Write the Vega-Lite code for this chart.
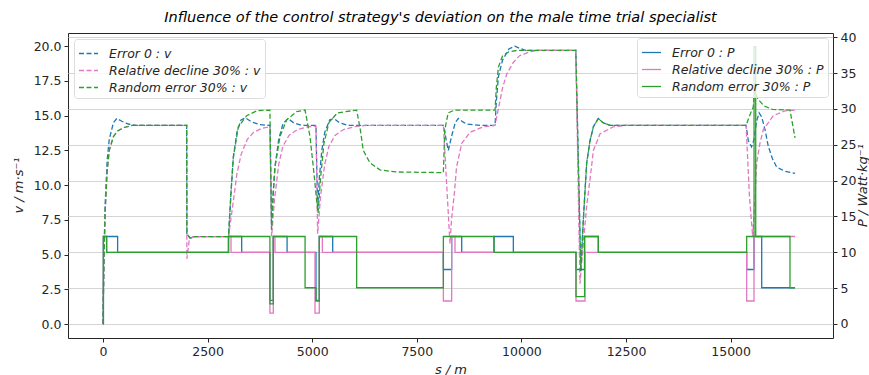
{
  "$schema": "https://vega.github.io/schema/vega-lite/v6.json",
  "width": 765,
  "height": 305,
  "autosize": {"type": "none"},
  "padding": {"left": 68, "top": 33, "right": 36, "bottom": 37},
  "background": "white",
  "config": {
    "font": "DejaVu Sans",
    "view": {"stroke": "#262626", "strokeWidth": 1},
    "axis": {
      "labelFont": "DejaVu Sans", "labelFontSize": 12.5, "labelColor": "#262626",
      "tickColor": "#262626", "tickSize": 4, "domain": false,
      "titleFont": "DejaVu Sans", "titleFontSize": 13, "titleFontWeight": "normal",
      "titleFontStyle": "italic", "titleColor": "#262626", "grid": false
    }
  },
  "title": {
    "text": "Influence of the control strategy's deviation on the male time trial specialist",
    "font": "DejaVu Sans", "fontSize": 14.5, "fontStyle": "italic", "fontWeight": "normal",
    "color": "#000000", "anchor": "middle", "offset": 6, "dx": -10
  },
  "datasets": {
    "v": [
      {"s":0,"v":0,"k":"Error 0 : v"},{"s":20,"v":4.5,"k":"Error 0 : v"},{"s":50,"v":8.5,"k":"Error 0 : v"},{"s":100,"v":11.8,"k":"Error 0 : v"},{"s":150,"v":13.3,"k":"Error 0 : v"},{"s":250,"v":14.5,"k":"Error 0 : v"},{"s":330,"v":14.8,"k":"Error 0 : v"},{"s":450,"v":14.6,"k":"Error 0 : v"},{"s":600,"v":14.4,"k":"Error 0 : v"},{"s":800,"v":14.3,"k":"Error 0 : v"},{"s":2000,"v":14.3,"k":"Error 0 : v"},{"s":2005,"v":6.5,"k":"Error 0 : v"},{"s":2080,"v":6.2,"k":"Error 0 : v"},{"s":2200,"v":6.3,"k":"Error 0 : v"},{"s":3000,"v":6.3,"k":"Error 0 : v"},{"s":3060,"v":9.5,"k":"Error 0 : v"},{"s":3115,"v":12.0,"k":"Error 0 : v"},{"s":3200,"v":13.8,"k":"Error 0 : v"},{"s":3300,"v":14.7,"k":"Error 0 : v"},{"s":3400,"v":14.85,"k":"Error 0 : v"},{"s":3550,"v":14.55,"k":"Error 0 : v"},{"s":3750,"v":14.35,"k":"Error 0 : v"},{"s":3990,"v":14.3,"k":"Error 0 : v"},{"s":4030,"v":7.0,"k":"Error 0 : v"},{"s":4070,"v":9.5,"k":"Error 0 : v"},{"s":4110,"v":11.3,"k":"Error 0 : v"},{"s":4200,"v":13.3,"k":"Error 0 : v"},{"s":4300,"v":14.4,"k":"Error 0 : v"},{"s":4420,"v":14.8,"k":"Error 0 : v"},{"s":4550,"v":14.5,"k":"Error 0 : v"},{"s":4750,"v":14.3,"k":"Error 0 : v"},{"s":5090,"v":14.3,"k":"Error 0 : v"},{"s":5130,"v":8.2,"k":"Error 0 : v"},{"s":5170,"v":10.5,"k":"Error 0 : v"},{"s":5230,"v":12.5,"k":"Error 0 : v"},{"s":5300,"v":13.8,"k":"Error 0 : v"},{"s":5420,"v":14.7,"k":"Error 0 : v"},{"s":5520,"v":14.8,"k":"Error 0 : v"},{"s":5650,"v":14.5,"k":"Error 0 : v"},{"s":5850,"v":14.3,"k":"Error 0 : v"},{"s":8135,"v":14.3,"k":"Error 0 : v"},{"s":8253,"v":12.5,"k":"Error 0 : v"},{"s":8330,"v":13.5,"k":"Error 0 : v"},{"s":8420,"v":14.5,"k":"Error 0 : v"},{"s":8492,"v":14.8,"k":"Error 0 : v"},{"s":8600,"v":14.55,"k":"Error 0 : v"},{"s":8692,"v":14.4,"k":"Error 0 : v"},{"s":9010,"v":14.3,"k":"Error 0 : v"},{"s":9370,"v":14.3,"k":"Error 0 : v"},{"s":9400,"v":16.0,"k":"Error 0 : v"},{"s":9450,"v":17.8,"k":"Error 0 : v"},{"s":9550,"v":19.0,"k":"Error 0 : v"},{"s":9700,"v":19.8,"k":"Error 0 : v"},{"s":9847,"v":20.0,"k":"Error 0 : v"},{"s":9950,"v":19.85,"k":"Error 0 : v"},{"s":10100,"v":19.7,"k":"Error 0 : v"},{"s":11300,"v":19.7,"k":"Error 0 : v"},{"s":11420,"v":3.8,"k":"Error 0 : v"},{"s":11480,"v":7.5,"k":"Error 0 : v"},{"s":11560,"v":11.6,"k":"Error 0 : v"},{"s":11640,"v":13.2,"k":"Error 0 : v"},{"s":11720,"v":14.2,"k":"Error 0 : v"},{"s":11838,"v":14.8,"k":"Error 0 : v"},{"s":11950,"v":14.5,"k":"Error 0 : v"},{"s":12117,"v":14.3,"k":"Error 0 : v"},{"s":15370,"v":14.3,"k":"Error 0 : v"},{"s":15423,"v":13.2,"k":"Error 0 : v"},{"s":15500,"v":12.75,"k":"Error 0 : v"},{"s":15560,"v":13.3,"k":"Error 0 : v"},{"s":15620,"v":14.6,"k":"Error 0 : v"},{"s":15682,"v":15.2,"k":"Error 0 : v"},{"s":15743,"v":14.9,"k":"Error 0 : v"},{"s":15822,"v":14.0,"k":"Error 0 : v"},{"s":15900,"v":12.8,"k":"Error 0 : v"},{"s":16000,"v":11.9,"k":"Error 0 : v"},{"s":16101,"v":11.3,"k":"Error 0 : v"},{"s":16300,"v":11.0,"k":"Error 0 : v"},{"s":16540,"v":10.85,"k":"Error 0 : v"},

      {"s":0,"v":0,"k":"Relative decline 30% : v"},{"s":20,"v":4,"k":"Relative decline 30% : v"},{"s":50,"v":8,"k":"Relative decline 30% : v"},{"s":100,"v":11,"k":"Relative decline 30% : v"},{"s":150,"v":12.5,"k":"Relative decline 30% : v"},{"s":250,"v":13.5,"k":"Relative decline 30% : v"},{"s":350,"v":13.9,"k":"Relative decline 30% : v"},{"s":500,"v":14.15,"k":"Relative decline 30% : v"},{"s":700,"v":14.3,"k":"Relative decline 30% : v"},{"s":2000,"v":14.3,"k":"Relative decline 30% : v"},{"s":2005,"v":4.7,"k":"Relative decline 30% : v"},{"s":2060,"v":6.0,"k":"Relative decline 30% : v"},{"s":2150,"v":6.3,"k":"Relative decline 30% : v"},{"s":3000,"v":6.3,"k":"Relative decline 30% : v"},{"s":3100,"v":8.5,"k":"Relative decline 30% : v"},{"s":3200,"v":10.8,"k":"Relative decline 30% : v"},{"s":3300,"v":12.2,"k":"Relative decline 30% : v"},{"s":3450,"v":13.3,"k":"Relative decline 30% : v"},{"s":3600,"v":13.8,"k":"Relative decline 30% : v"},{"s":3800,"v":14.1,"k":"Relative decline 30% : v"},{"s":3990,"v":14.2,"k":"Relative decline 30% : v"},{"s":4030,"v":6.3,"k":"Relative decline 30% : v"},{"s":4100,"v":9.0,"k":"Relative decline 30% : v"},{"s":4200,"v":11.5,"k":"Relative decline 30% : v"},{"s":4300,"v":12.8,"k":"Relative decline 30% : v"},{"s":4450,"v":13.6,"k":"Relative decline 30% : v"},{"s":4650,"v":14.0,"k":"Relative decline 30% : v"},{"s":4900,"v":14.2,"k":"Relative decline 30% : v"},{"s":5090,"v":14.25,"k":"Relative decline 30% : v"},{"s":5130,"v":6.5,"k":"Relative decline 30% : v"},{"s":5200,"v":9.2,"k":"Relative decline 30% : v"},{"s":5300,"v":11.5,"k":"Relative decline 30% : v"},{"s":5400,"v":12.8,"k":"Relative decline 30% : v"},{"s":5550,"v":13.6,"k":"Relative decline 30% : v"},{"s":5750,"v":14.0,"k":"Relative decline 30% : v"},{"s":6000,"v":14.2,"k":"Relative decline 30% : v"},{"s":6300,"v":14.3,"k":"Relative decline 30% : v"},{"s":8135,"v":14.3,"k":"Relative decline 30% : v"},{"s":8293,"v":5.8,"k":"Relative decline 30% : v"},{"s":8330,"v":7.5,"k":"Relative decline 30% : v"},{"s":8400,"v":9.5,"k":"Relative decline 30% : v"},{"s":8450,"v":11.3,"k":"Relative decline 30% : v"},{"s":8573,"v":13.0,"k":"Relative decline 30% : v"},{"s":8771,"v":13.8,"k":"Relative decline 30% : v"},{"s":9089,"v":14.2,"k":"Relative decline 30% : v"},{"s":9370,"v":14.3,"k":"Relative decline 30% : v"},{"s":9450,"v":15.5,"k":"Relative decline 30% : v"},{"s":9550,"v":17.0,"k":"Relative decline 30% : v"},{"s":9650,"v":18.0,"k":"Relative decline 30% : v"},{"s":9800,"v":18.8,"k":"Relative decline 30% : v"},{"s":9950,"v":19.3,"k":"Relative decline 30% : v"},{"s":10200,"v":19.6,"k":"Relative decline 30% : v"},{"s":10400,"v":19.7,"k":"Relative decline 30% : v"},{"s":11300,"v":19.7,"k":"Relative decline 30% : v"},{"s":11400,"v":2.9,"k":"Relative decline 30% : v"},{"s":11500,"v":6.5,"k":"Relative decline 30% : v"},{"s":11560,"v":8.5,"k":"Relative decline 30% : v"},{"s":11640,"v":10.4,"k":"Relative decline 30% : v"},{"s":11720,"v":12.5,"k":"Relative decline 30% : v"},{"s":11880,"v":13.7,"k":"Relative decline 30% : v"},{"s":12197,"v":14.2,"k":"Relative decline 30% : v"},{"s":12500,"v":14.3,"k":"Relative decline 30% : v"},{"s":15370,"v":14.3,"k":"Relative decline 30% : v"},{"s":15450,"v":9.2,"k":"Relative decline 30% : v"},{"s":15528,"v":6.3,"k":"Relative decline 30% : v"},{"s":15580,"v":9.0,"k":"Relative decline 30% : v"},{"s":15623,"v":11.6,"k":"Relative decline 30% : v"},{"s":15700,"v":13.0,"k":"Relative decline 30% : v"},{"s":15782,"v":14.0,"k":"Relative decline 30% : v"},{"s":16020,"v":15.0,"k":"Relative decline 30% : v"},{"s":16300,"v":15.35,"k":"Relative decline 30% : v"},{"s":16540,"v":15.4,"k":"Relative decline 30% : v"},

      {"s":0,"v":0,"k":"Random error 30% : v"},{"s":20,"v":4,"k":"Random error 30% : v"},{"s":50,"v":8,"k":"Random error 30% : v"},{"s":100,"v":11,"k":"Random error 30% : v"},{"s":150,"v":12.5,"k":"Random error 30% : v"},{"s":250,"v":13.5,"k":"Random error 30% : v"},{"s":350,"v":13.9,"k":"Random error 30% : v"},{"s":500,"v":14.15,"k":"Random error 30% : v"},{"s":700,"v":14.3,"k":"Random error 30% : v"},{"s":2000,"v":14.3,"k":"Random error 30% : v"},{"s":2005,"v":6.5,"k":"Random error 30% : v"},{"s":2080,"v":6.2,"k":"Random error 30% : v"},{"s":2200,"v":6.3,"k":"Random error 30% : v"},{"s":3000,"v":6.3,"k":"Random error 30% : v"},{"s":3060,"v":9.5,"k":"Random error 30% : v"},{"s":3115,"v":12.0,"k":"Random error 30% : v"},{"s":3235,"v":14.2,"k":"Random error 30% : v"},{"s":3435,"v":15.0,"k":"Random error 30% : v"},{"s":3675,"v":15.35,"k":"Random error 30% : v"},{"s":3990,"v":15.4,"k":"Random error 30% : v"},{"s":4030,"v":6.8,"k":"Random error 30% : v"},{"s":4070,"v":9.5,"k":"Random error 30% : v"},{"s":4110,"v":11.3,"k":"Random error 30% : v"},{"s":4230,"v":13.5,"k":"Random error 30% : v"},{"s":4390,"v":14.7,"k":"Random error 30% : v"},{"s":4630,"v":15.3,"k":"Random error 30% : v"},{"s":4830,"v":15.4,"k":"Random error 30% : v"},{"s":4947,"v":13.5,"k":"Random error 30% : v"},{"s":5027,"v":11.3,"k":"Random error 30% : v"},{"s":5107,"v":8.9,"k":"Random error 30% : v"},{"s":5140,"v":8.0,"k":"Random error 30% : v"},{"s":5200,"v":10.5,"k":"Random error 30% : v"},{"s":5280,"v":13.0,"k":"Random error 30% : v"},{"s":5400,"v":14.5,"k":"Random error 30% : v"},{"s":5600,"v":15.2,"k":"Random error 30% : v"},{"s":6063,"v":15.4,"k":"Random error 30% : v"},{"s":6150,"v":14.0,"k":"Random error 30% : v"},{"s":6221,"v":12.5,"k":"Random error 30% : v"},{"s":6381,"v":11.6,"k":"Random error 30% : v"},{"s":6620,"v":11.1,"k":"Random error 30% : v"},{"s":7000,"v":10.95,"k":"Random error 30% : v"},{"s":8135,"v":10.9,"k":"Random error 30% : v"},{"s":8170,"v":14.0,"k":"Random error 30% : v"},{"s":8250,"v":15.2,"k":"Random error 30% : v"},{"s":8400,"v":15.4,"k":"Random error 30% : v"},{"s":9370,"v":15.4,"k":"Random error 30% : v"},{"s":9400,"v":17.0,"k":"Random error 30% : v"},{"s":9450,"v":18.5,"k":"Random error 30% : v"},{"s":9550,"v":19.3,"k":"Random error 30% : v"},{"s":9700,"v":19.6,"k":"Random error 30% : v"},{"s":9900,"v":19.7,"k":"Random error 30% : v"},{"s":11300,"v":19.7,"k":"Random error 30% : v"},{"s":11420,"v":3.8,"k":"Random error 30% : v"},{"s":11480,"v":7.5,"k":"Random error 30% : v"},{"s":11560,"v":11.6,"k":"Random error 30% : v"},{"s":11640,"v":13.2,"k":"Random error 30% : v"},{"s":11720,"v":14.2,"k":"Random error 30% : v"},{"s":11838,"v":14.8,"k":"Random error 30% : v"},{"s":11950,"v":14.5,"k":"Random error 30% : v"},{"s":12117,"v":14.3,"k":"Random error 30% : v"},{"s":15370,"v":14.3,"k":"Random error 30% : v"},{"s":15480,"v":15.2,"k":"Random error 30% : v"},{"s":15540,"v":15.6,"k":"Random error 30% : v"},{"s":15575,"v":16.8,"k":"Random error 30% : v"},{"s":15650,"v":16.2,"k":"Random error 30% : v"},{"s":15800,"v":15.7,"k":"Random error 30% : v"},{"s":16000,"v":15.45,"k":"Random error 30% : v"},{"s":16419,"v":15.4,"k":"Random error 30% : v"},{"s":16540,"v":13.4,"k":"Random error 30% : v"}
    ],
    "p": [
      {"s":0,"P":0,"k":"Error 0 : P"},{"s":10,"P":12.2,"k":"Error 0 : P"},{"s":350,"P":10,"k":"Error 0 : P"},{"s":3000,"P":12.2,"k":"Error 0 : P"},{"s":3315,"P":10,"k":"Error 0 : P"},{"s":3990,"P":3.3,"k":"Error 0 : P"},{"s":4070,"P":12.2,"k":"Error 0 : P"},{"s":4400,"P":10,"k":"Error 0 : P"},{"s":5090,"P":3.3,"k":"Error 0 : P"},{"s":5170,"P":12.2,"k":"Error 0 : P"},{"s":5490,"P":10,"k":"Error 0 : P"},{"s":8135,"P":7.6,"k":"Error 0 : P"},{"s":8333,"P":12.2,"k":"Error 0 : P"},{"s":8573,"P":10,"k":"Error 0 : P"},{"s":9345,"P":12.2,"k":"Error 0 : P"},{"s":9807,"P":10,"k":"Error 0 : P"},{"s":11305,"P":7.6,"k":"Error 0 : P"},{"s":11510,"P":12.2,"k":"Error 0 : P"},{"s":11838,"P":10,"k":"Error 0 : P"},{"s":15384,"P":7.6,"k":"Error 0 : P"},{"s":15559,"P":12.2,"k":"Error 0 : P"},{"s":15743,"P":5.05,"k":"Error 0 : P"},{"s":16540,"P":5.05,"k":"Error 0 : P"},

      {"s":0,"P":0,"k":"Relative decline 30% : P"},{"s":10,"P":12.2,"k":"Relative decline 30% : P"},{"s":88,"P":10,"k":"Relative decline 30% : P"},{"s":3000,"P":12.2,"k":"Relative decline 30% : P"},{"s":3060,"P":10,"k":"Relative decline 30% : P"},{"s":3990,"P":1.5,"k":"Relative decline 30% : P"},{"s":4070,"P":12.2,"k":"Relative decline 30% : P"},{"s":4110,"P":10,"k":"Relative decline 30% : P"},{"s":5067,"P":1.5,"k":"Relative decline 30% : P"},{"s":5170,"P":12.2,"k":"Relative decline 30% : P"},{"s":5243,"P":10,"k":"Relative decline 30% : P"},{"s":8135,"P":3.2,"k":"Relative decline 30% : P"},{"s":8333,"P":12.2,"k":"Relative decline 30% : P"},{"s":8413,"P":10,"k":"Relative decline 30% : P"},{"s":11305,"P":3.2,"k":"Relative decline 30% : P"},{"s":11520,"P":10,"k":"Relative decline 30% : P"},{"s":15384,"P":3.2,"k":"Relative decline 30% : P"},{"s":15559,"P":12.2,"k":"Relative decline 30% : P"},{"s":16540,"P":12.2,"k":"Relative decline 30% : P"},

      {"s":0,"P":0,"k":"Random error 30% : P"},{"s":10,"P":12.2,"k":"Random error 30% : P"},{"s":88,"P":10,"k":"Random error 30% : P"},{"s":3000,"P":12.2,"k":"Random error 30% : P"},{"s":3990,"P":2.8,"k":"Random error 30% : P"},{"s":4070,"P":12.2,"k":"Random error 30% : P"},{"s":4830,"P":5.05,"k":"Random error 30% : P"},{"s":5090,"P":3.2,"k":"Random error 30% : P"},{"s":5170,"P":12.2,"k":"Random error 30% : P"},{"s":6063,"P":5.05,"k":"Random error 30% : P"},{"s":8135,"P":12.2,"k":"Random error 30% : P"},{"s":9345,"P":10,"k":"Random error 30% : P"},{"s":11305,"P":3.8,"k":"Random error 30% : P"},{"s":11510,"P":12.2,"k":"Random error 30% : P"},{"s":11838,"P":10,"k":"Random error 30% : P"},{"s":15384,"P":12.2,"k":"Random error 30% : P"},{"s":15560,"P":38.7,"k":"Random error 30% : P"},{"s":15600,"P":12.2,"k":"Random error 30% : P"},{"s":16419,"P":5.05,"k":"Random error 30% : P"},{"s":16540,"P":5.05,"k":"Random error 30% : P"}
    ]
  },
  "layer": [
    {
      "data": {"name": "v"},
      "mark": {"type": "line", "strokeDash": [5, 2.5], "strokeWidth": 1.3},
      "encoding": {
        "x": {
          "field": "s", "type": "quantitative",
          "scale": {"domain": [-836, 17447], "nice": false, "zero": false},
          "axis": {"values": [0, 2500, 5000, 7500, 10000, 12500, 15000], "format": "d", "title": "s / m", "labelPadding": 3, "titleY": 31, "titleBaseline": "middle"}
        },
        "y": {
          "field": "v", "type": "quantitative",
          "scale": {"domain": [-1.0, 20.95], "nice": false, "zero": false},
          "axis": {"values": [0, 2.5, 5, 7.5, 10, 12.5, 15, 17.5, 20], "format": ".1f", "title": "v / m·s⁻¹", "titleX": -50, "titleY": 152, "titleAngle": 270, "titleAlign": "center", "titleBaseline": "middle", "labelPadding": 3}
        },
        "color": {
          "field": "k", "type": "nominal",
          "scale": {"domain": ["Error 0 : v", "Relative decline 30% : v", "Random error 30% : v"], "range": ["#1f77b4", "#e377c2", "#2ca02c"]},
          "legend": {
            "orient": "top-left", "offset": 6, "title": null,
            "symbolType": "stroke", "symbolDash": [5, 2.5], "symbolStrokeWidth": 1.3, "symbolSize": 361,
            "labelFont": "DejaVu Sans", "labelFontSize": 12.5, "labelFontStyle": "italic", "labelColor": "#262626", "labelOffset": 10,
            "fillColor": "rgba(255,255,255,0.8)", "strokeColor": "#dddddd", "cornerRadius": 3, "padding": 4, "rowPadding": -1
          }
        }
      }
    },
    {
      "data": {"name": "p"},
      "mark": {"type": "line", "strokeWidth": 1.3, "interpolate": "step-after"},
      "encoding": {
        "x": {"field": "s", "type": "quantitative"},
        "y": {
          "field": "P", "type": "quantitative",
          "scale": {"domain": [-1.96, 40.6], "nice": false, "zero": false},
          "axis": {"orient": "right", "values": [0, 5, 10, 15, 20, 25, 30, 35, 40], "format": "d", "title": "P / Watt·kg⁻¹", "titleX": 29, "titleY": 152, "titleAngle": 270, "titleAlign": "center", "titleBaseline": "middle", "labelPadding": 3, "grid": true, "gridColor": "#d4d4d4", "gridWidth": 1.2}
        },
        "color": {
          "field": "k", "type": "nominal",
          "scale": {"domain": ["Error 0 : P", "Relative decline 30% : P", "Random error 30% : P"], "range": ["#1f77b4", "#e377c2", "#2ca02c"]},
          "legend": {
            "orient": "top-right", "offset": 5, "title": null,
            "symbolType": "stroke", "symbolStrokeWidth": 1.3, "symbolSize": 361,
            "labelFont": "DejaVu Sans", "labelFontSize": 12.5, "labelFontStyle": "italic", "labelColor": "#262626", "labelOffset": 10,
            "fillColor": "rgba(255,255,255,0.8)", "strokeColor": "#dddddd", "cornerRadius": 3, "padding": 4, "rowPadding": -1
          }
        }
      }
    }
  ],
  "resolve": {"scale": {"y": "independent", "color": "independent"}}
}
